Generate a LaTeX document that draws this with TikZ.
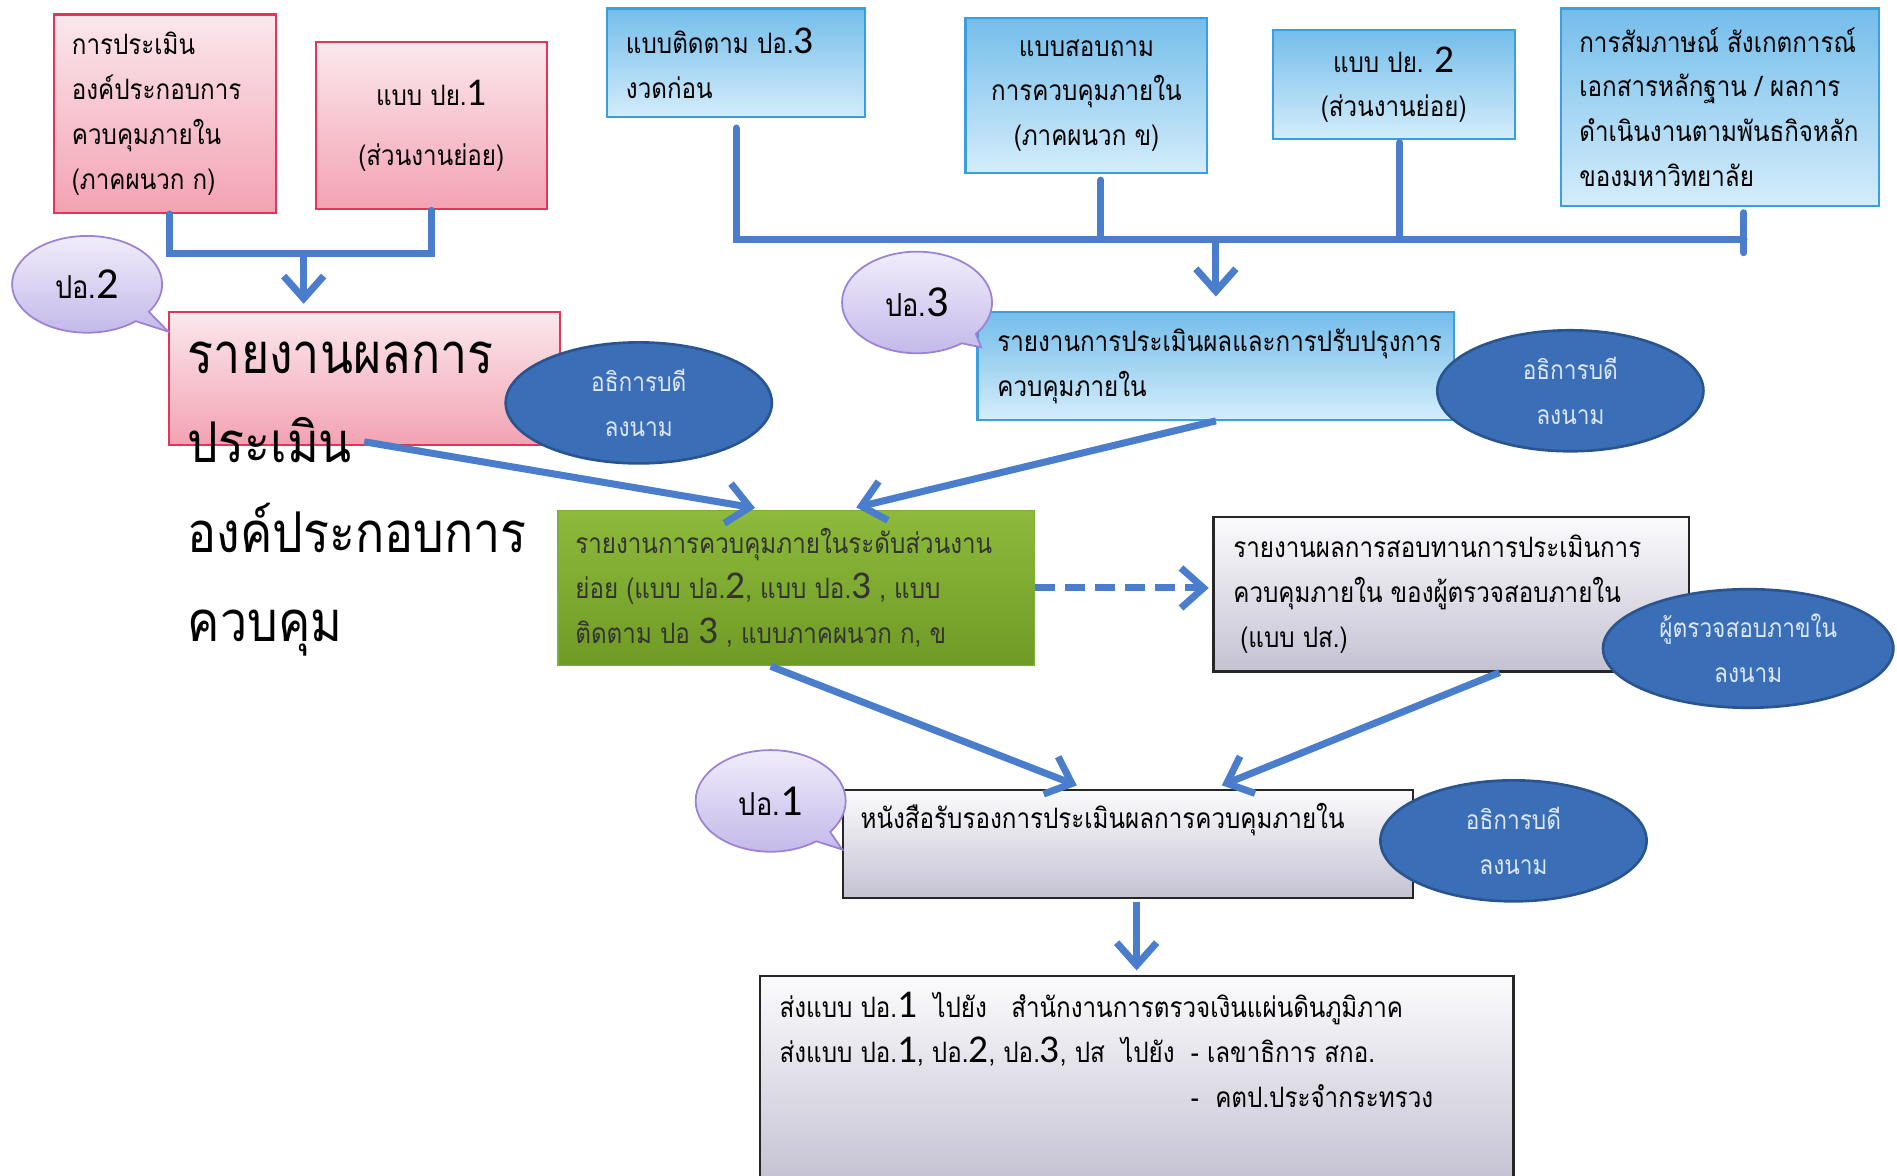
\documentclass[tikz,border=0pt]{standalone}
\usepackage{fontspec}
\setmainfont{Loma}[Script=Thai, FakeStretch=0.86]
\newfontfamily\numfont[Scale=1.4]{Carlito}
\usepackage{xcolor}
\usepackage{tikz}
\usetikzlibrary{shapes.geometric,shapes.callouts,arrows.meta}

\definecolor{pinktop}{HTML}{FAE8EC}
\definecolor{pinkbot}{HTML}{F3A2B2}
\definecolor{pinkedge}{HTML}{E0365A}
\definecolor{bluetop}{HTML}{74BDEA}
\definecolor{bluebot}{HTML}{D4EDFB}
\definecolor{blueedge}{HTML}{3A9FE0}
\definecolor{greentop}{HTML}{8DBA3C}
\definecolor{greenbot}{HTML}{6F9B25}
\definecolor{greenedge}{HTML}{7BAF38}
\definecolor{graytop}{HTML}{FBFBFD}
\definecolor{graybot}{HTML}{C4C2D2}
\definecolor{ovalfill}{HTML}{3A6FB7}
\definecolor{ovaledge}{HTML}{2A5490}
\definecolor{ovaltext}{HTML}{DDE7F6}
\definecolor{tagtop}{HTML}{F0EDFA}
\definecolor{tagbot}{HTML}{C4B9EA}
\definecolor{tagedge}{HTML}{9C82D4}
\definecolor{linkblue}{HTML}{4A7DCB}

\newlength\px
\setlength\px{0.0242cm}
\newcommand{\dg}[1]{{\numfont #1}}

\begin{document}
\begin{tikzpicture}[
			x=0.0242cm, y=-0.0242cm,
			every node/.style={inner sep=0pt, font=\fontsize{16}{25.5}\selectfont},
			pinkbox/.style={rectangle, draw=pinkedge, line width=1.2pt, top color=pinktop, bottom color=pinkbot},
			bluebox/.style={rectangle, draw=blueedge, line width=1.2pt, top color=bluetop, bottom color=bluebot},
			greenbox/.style={rectangle, draw=greenedge, line width=1pt, top color=greentop, bottom color=greenbot},
			graybox/.style={rectangle, draw=black!85, line width=1.2pt, top color=graytop, bottom color=graybot},
			signoval/.style={ellipse, draw=ovaledge, line width=1.5pt, fill=ovalfill, text=ovaltext, align=center, font=\fontsize{15}{25.5}\selectfont},
			tagbubble/.style={ellipse callout, draw=tagedge, line width=1pt, top color=tagtop, bottom color=tagbot, font=\fontsize{18}{20}\selectfont},
			txt/.style={anchor=west, align=left},
			bigtxt/.style={anchor=base west, font=\fontsize{32}{40}\selectfont},
			joinline/.style={draw=linkblue, line width=4pt, line cap=round},
			flow/.style={draw=linkblue, line width=4pt, -{Straight Barb[length=4.5mm,width=8mm]}, shorten >=6\px}
			]
			\useasboundingbox (0,0) rectangle (1568,972);
			
			% input boxes
			\node (pa) [pinkbox, minimum width=183\px, minimum height=164\px] at (136.5,94) {};
			\node (pat) [txt] at ([xshift=15\px]pa.west) {การประเมิน\\องค์ประกอบการ\\ควบคุมภายใน\\(ภาคผนวก ก)};
			\node (pb) [pinkbox, align=center, minimum width=191\px, minimum height=138\px, font=\fontsize{16}{34}\selectfont] at (356.5,104) {แบบ ปย.\dg{1}\\(ส่วนงานย่อย)};
			\node (b1) [bluebox, minimum width=213\px, minimum height=90\px] at (608.5,52) {};
			\node (b1t) [txt] at ([xshift=16\px]b1.west) {แบบติดตาม ปอ.\dg{3}\\งวดก่อน};
			\node (b2) [bluebox, align=center, minimum width=200\px, minimum height=128\px] at (898,79) {แบบสอบถาม\\การควบคุมภายใน\\(ภาคผนวก ข)};
			\node (b3) [bluebox, align=center, minimum width=200\px, minimum height=90\px] at (1152,70) {แบบ ปย. \dg{2}\\(ส่วนงานย่อย)};
			\node (b4) [bluebox, minimum width=263\px, minimum height=163\px] at (1421.5,88.5) {};
			\node (b4t) [txt] at ([xshift=16\px]b4.west) {การสัมภาษณ์ สังเกตการณ์\\เอกสารหลักฐาน / ผลการ\\ดำเนินงานตามพันธกิจหลัก\\ของมหาวิทยาลัย};
			
			% report boxes
			\node (big) [pinkbox, minimum width=323\px, minimum height=110\px] at (301.5,313) {};
			\node (l1) [bigtxt] at (155,309) {รายงานผลการ};
			\node (l2) [bigtxt] at (155,382) {ประเมิน};
			\node (l3) [bigtxt] at (155,457) {องค์ประกอบการ};
			\node (l4) [bigtxt] at (155,530) {ควบคุม};
			\node (b5) [bluebox, minimum width=394\px, minimum height=89\px] at (1005,302.5) {};
			\node (b5t) [txt] at ([xshift=17\px]b5.west) {รายงานการประเมินผลและการปรับปรุงการ\\ควบคุมภายใน};
			\node (gr) [greenbox, minimum width=394\px, minimum height=128\px] at (658,486) {};
			\node (grt) [txt, text=black!80] at ([xshift=15\px]gr.west) {รายงานการควบคุมภายในระดับส่วนงาน\\ย่อย (แบบ ปอ.\dg{2}, แบบ ปอ.\dg{3} , แบบ\\ติดตาม ปอ \dg{3} , แบบภาคผนวก ก, ข};
			\node (g1) [graybox, minimum width=393\px, minimum height=128\px] at (1199.5,491) {};
			\node (g1t) [txt] at ([xshift=17\px]g1.west) {รายงานผลการสอบทานการประเมินการ\\ควบคุมภายใน ของผู้ตรวจสอบภายใน\\\hspace*{4pt}(แบบ ปส.)};
			\node (p1) [graybox, minimum width=471\px, minimum height=89\px] at (932.5,697.5) {};
			\node (p1t) [txt] at ([xshift=15\px,yshift=-25\px]p1.north west) {หนังสือรับรองการประเมินผลการควบคุมภายใน};
			\node (bot) [graybox, minimum width=623\px, minimum height=170\px] at (939.5,892) {};
			\node (bott) [txt, anchor=north west] at ([xshift=17\px,yshift=-14\px]bot.north west) {ส่งแบบ ปอ.\dg{1}~~ไปยัง~~~สำนักงานการตรวจเงินแผ่นดินภูมิภาค\\ส่งแบบ ปอ.\dg{1}, ปอ.\dg{2}, ปอ.\dg{3}, ปส~~ไปยัง~~- เลขาธิการ สกอ.\\\phantom{ส่งแบบ ปอ.\dg{1}, ปอ.\dg{2}, ปอ.\dg{3}, ปส~~ไปยัง~~}-~~คตป.ประจำกระทรวง};
			
			% connectors
			\draw [joinline] ([xshift=4\px]pa.south) -- ++(0,33) -| (pb.south);
			\coordinate (jl) at (251,211);
			\draw [flow] (jl) -- (jl |- big.north);
			\coordinate (jr) at (1005,198);
			\draw [joinline] ([yshift=-8\px]b1.south) |- ([xshift=20\px]b4.south |- jr);
			\draw [joinline] ([xshift=12\px,yshift=-5\px]b2.south) -- ([xshift=12\px]b2.south |- jr);
			\draw [joinline] ([xshift=5\px,yshift=-2\px]b3.south) -- ([xshift=5\px]b3.south |- jr);
			\draw [joinline] ([xshift=20\px,yshift=-5\px]b4.south) -- ++(0,33);
			\draw [flow, shorten >=12\px] (jr) -- (b5.north);
			\draw [flow, shorten <=10\px, shorten >=8\px] (l2.east) -- ([xshift=-26\px]gr.north);
			\draw [flow, shorten >=8\px] (b5.south) -- ([xshift=42\px]gr.north);
			\draw [flow, dash pattern=on 0.4cm off 0.2cm, shorten >=3\px] (gr.east) -- (gr.east -| g1.west);
			\draw [flow, shorten >=8\px] ([xshift=-21\px]gr.south) -- ([xshift=-35\px]p1.north);
			\draw [flow, shorten >=8\px] ([xshift=40\px]g1.south) -- ([xshift=70\px]p1.north);
			\draw [flow, shorten <=3\px, shorten >=4\px] (bot.north |- p1.south) -- (bot.north);
			
			% signatures
			\node (e1) [signoval, minimum width=220\px, minimum height=100\px] at (528,333) {อธิการบดี\\ลงนาม};
			\node (e2) [signoval, minimum width=220\px, minimum height=100\px] at (1298,323) {อธิการบดี\\ลงนาม};
			\node (e3) [signoval, minimum width=240\px, minimum height=98\px] at (1445,536) {ผู้ตรวจสอบภาขใน\\ลงนาม};
			\node (e4) [signoval, minimum width=220\px, minimum height=100\px] at (1251,695) {อธิการบดี\\ลงนาม};
			
			% form tags
			\node (t2) [tagbubble, minimum width=124\px, minimum height=80\px, callout absolute pointer={([yshift=-17\px]big.north west)}] at (72,235) {ปอ.\dg{2}};
			\node (t3) [tagbubble, minimum width=124\px, minimum height=84\px, callout absolute pointer={([xshift=4\px,yshift=-30\px]b5.north west)}] at (758,250) {ปอ.\dg{3}};
			\node (t1) [tagbubble, minimum width=124\px, minimum height=84\px, callout absolute pointer={([yshift=-50\px]p1.north west)}] at (637,662) {ปอ.\dg{1}};
			
		\end{tikzpicture}
\end{document}
